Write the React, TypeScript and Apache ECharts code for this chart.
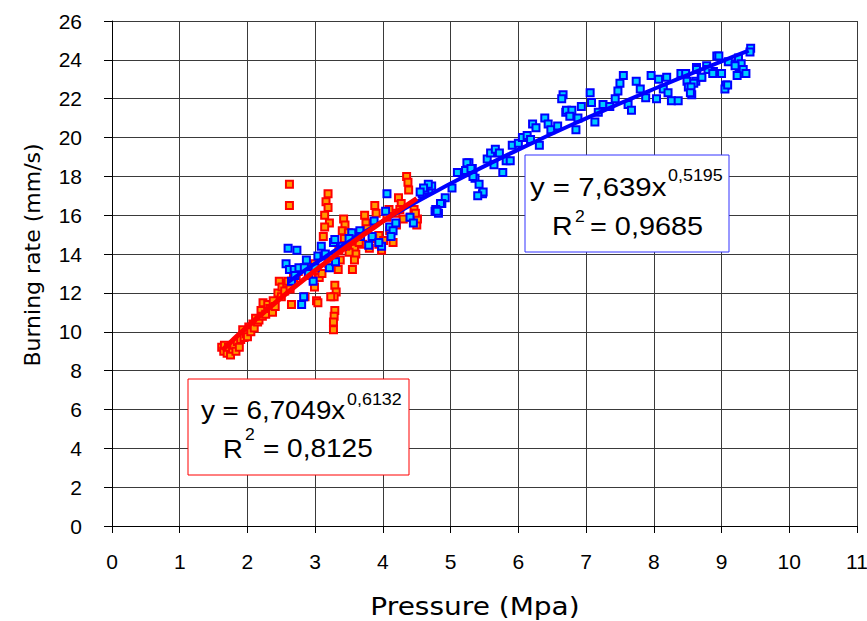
import React, { useEffect, useRef } from 'react';
import * as echarts from 'echarts';

// Tick labels
const xTicks = [0, 1, 2, 3, 4, 5, 6, 7, 8, 9, 10, 11];
const yTicks = [0, 2, 4, 6, 8, 10, 12, 14, 16, 18, 20, 22, 24, 26];

// Red (low-pressure) measured points [pressure, burning rate]
const redPoints: [number, number][] = [
  [1.62, 9.2], [1.65, 9.0], [1.66, 9.3], [1.7, 8.9], [1.72, 9.2], [1.75, 8.8], [1.78, 9.1], [1.8, 9.3],
  [1.83, 9.0], [1.85, 9.5], [1.88, 9.2], [1.9, 9.6], [1.93, 10.1], [1.95, 9.7], [1.98, 9.9], [2.0, 9.75],
  [2.02, 10.25], [2.05, 10.0], [2.08, 10.4], [2.1, 10.2], [2.12, 10.7], [2.15, 10.5], [2.17, 10.6],
  [2.2, 11.1], [2.22, 10.8], [2.23, 11.5], [2.27, 10.9], [2.3, 11.4], [2.33, 11.2], [2.37, 11.0],
  [2.38, 11.6], [2.41, 11.3], [2.45, 12.0], [2.47, 12.6], [2.5, 11.8], [2.51, 12.3], [2.55, 12.1],
  [2.58, 12.5], [2.6, 12.6], [2.63, 12.2], [2.65, 11.4], [2.62, 17.6], [2.62, 16.5], [2.68, 12.8],
  [2.72, 12.9], [2.75, 13.1],
  [2.85, 11.8], [2.9, 12.9], [2.95, 13.3], [2.99, 13.5], [3.04, 13.0], [2.99, 12.3], [3.02, 11.6],
  [3.04, 11.5], [3.06, 12.8],
  [3.19, 17.1], [3.16, 16.7], [3.19, 16.4], [3.14, 16.0], [3.21, 15.6], [3.14, 15.4], [3.12, 14.9],
  [3.29, 12.4], [3.31, 12.05], [3.28, 11.8], [3.23, 11.8], [3.29, 11.1], [3.28, 10.8], [3.27, 10.5],
  [3.27, 10.1],
  [3.42, 15.8], [3.44, 15.5], [3.4, 15.2], [3.49, 15.1], [3.43, 14.8], [3.58, 14.3], [3.6, 14.0],
  [3.58, 13.7], [3.34, 13.2], [3.37, 13.7],
  [3.73, 16.0], [3.75, 15.6], [3.77, 15.3], [3.88, 16.5], [3.9, 16.1], [3.94, 14.96], [4.01, 14.7],
  [3.98, 14.2], [3.94, 14.5],
  [4.23, 16.9], [4.27, 16.6], [4.25, 16.3], [4.35, 18.0], [4.37, 17.7], [4.38, 17.3], [4.46, 16.3],
  [4.5, 15.5], [4.51, 15.8], [4.41, 15.9], [4.19, 16.1], [4.09, 16.3], [4.06, 15.9], [4.48, 16.1],
  [3.7, 14.5], [3.8, 14.3], [3.85, 14.8], [4.1, 15.2], [4.15, 14.6], [3.55, 13.2], [3.5, 14.1],
  [3.65, 14.6], [3.2, 13.5], [3.1, 13.0], [3.35, 14.2], [3.45, 14.4], [4.3, 15.8], [4.2, 15.5],
];

// Blue (full range) measured points [pressure, burning rate]
const bluePoints: [number, number][] = [
  [2.6, 14.3], [2.73, 14.2], [2.57, 13.5], [2.62, 13.2], [2.69, 13.2], [2.76, 13.3], [2.87, 13.7],
  [2.84, 13.3], [2.97, 12.6], [2.83, 11.8], [2.8, 11.4], [3.09, 14.4], [3.04, 13.9], [3.13, 13.9],
  [3.27, 14.6], [3.29, 14.75], [3.21, 13.3], [3.3, 13.6], [3.54, 15.1], [3.66, 15.2], [3.67, 14.9],
  [3.79, 14.45], [3.84, 14.9], [3.87, 15.7], [3.98, 14.4], [3.94, 14.6], [4.06, 17.1], [4.04, 16.2],
  [4.1, 15.4], [4.15, 15.2], [4.12, 14.9], [4.19, 15.6], [4.4, 15.9], [4.45, 15.6], [4.58, 17.1],
  [4.68, 17.3], [2.65, 12.6], [2.7, 12.9], [2.9, 13.0], [3.0, 13.3], [3.15, 14.0], [3.4, 14.4],
  [3.5, 14.8],
  [4.62, 17.3], [4.72, 17.5], [4.92, 16.9], [4.87, 16.6], [4.77, 16.2], [4.82, 16.1], [5.02, 17.4],
  [5.12, 18.2], [5.22, 18.3], [5.27, 18.7], [5.32, 18.4], [5.36, 17.9], [5.42, 17.6], [5.47, 17.1],
  [5.48, 17.2], [5.54, 18.9], [5.59, 19.2], [5.66, 19.4], [5.72, 19.2], [5.64, 18.6], [5.77, 18.2],
  [5.82, 18.8], [5.88, 18.8], [5.91, 19.6], [6.0, 19.7], [6.06, 20.0], [6.13, 20.1], [6.18, 19.9],
  [6.21, 20.7], [6.26, 20.5], [6.31, 19.6], [6.39, 21.0], [6.44, 20.7], [6.48, 20.4], [6.58, 20.6],
  [6.7, 21.3],
  [6.66, 22.2], [6.64, 22.0], [6.71, 21.4], [6.79, 21.4], [6.76, 21.1], [6.93, 21.6], [6.88, 21.0],
  [6.85, 20.4], [7.06, 22.3], [7.08, 21.8], [7.13, 20.8], [7.18, 21.3], [7.25, 21.7], [7.35, 21.6],
  [7.43, 22.0], [7.47, 22.4], [7.5, 22.8], [7.55, 23.2], [7.62, 21.7], [7.67, 21.4], [7.74, 22.9],
  [7.8, 22.5], [7.88, 22.05], [7.96, 23.2], [8.04, 22.0], [8.07, 23.0], [8.19, 23.1], [8.14, 22.5],
  [8.21, 22.3], [8.26, 21.9], [8.36, 21.9], [8.4, 23.3], [8.47, 23.3], [8.49, 22.9], [8.51, 22.6],
  [8.56, 22.2], [8.62, 22.9], [8.63, 23.6], [8.7, 23.1], [8.78, 23.7], [8.88, 23.4], [9.0, 23.3],
  [9.06, 22.7], [9.05, 22.5], [9.1, 23.9], [9.23, 23.8], [9.26, 23.3],
  [9.43, 24.6], [9.42, 24.4], [8.93, 24.2], [8.96, 24.2], [9.25, 24.1], [9.29, 23.8], [9.2, 23.7],
  [9.32, 23.5], [9.36, 23.3], [9.23, 23.2], [8.71, 23.1], [8.59, 22.8], [8.55, 22.6], [8.54, 22.3],
  [9.09, 22.7], [8.63, 23.5], [8.8, 23.5], [8.87, 23.3],
  [4.67, 17.6], [4.6, 17.4], [4.55, 17.2], [4.85, 16.6], [4.78, 16.3], [4.8, 16.2], [5.1, 18.2],
  [5.24, 18.7], [5.3, 18.4], [5.33, 18.0], [5.4, 17.0],
];

// Power-law trendlines, values
const blueFit: [number, number][] = [
  [2.6, 12.55], [3, 13.52], [4, 15.7], [5, 17.63], [6, 19.38], [7, 20.99], [8, 22.5], [9, 23.92], [9.4, 24.47],
];
const redFit: [number, number][] = [
  [1.63, 9.05], [2, 10.26], [2.5, 11.76], [3, 13.15], [3.5, 14.46], [4, 15.69], [4.5, 16.86],
];

const ARIAL = '"Liberation Sans", Arial, sans-serif';
const NAMEFONT = '"DejaVu Sans", sans-serif';

function txt(text: string, x: number, y: number, size: number, sx: number, extra: any = {}) {
  return {
    type: 'text', x, y, scaleX: sx, z: 100,
    style: { text, fontSize: size, fontFamily: ARIAL, fill: '#000', textAlign: 'left', textVerticalAlign: 'middle', verticalAlign: 'middle', ...extra },
  };
}

export default function App() {
  const ref = useRef<HTMLDivElement>(null);
  useEffect(() => {
    document.body.style.margin = '0';
    const chart = echarts.init(ref.current!, null, { renderer: 'svg' });
    chart.setOption({
      animation: false,
      backgroundColor: '#fff',
      grid: { left: 112, right: 10, top: 21, bottom: 95, containLabel: false, outerBoundsMode: 'none' },
      xAxis: {
        type: 'value', min: xTicks[0], max: xTicks[xTicks.length - 1], interval: 1,
        axisLine: { show: true, onZero: false, lineStyle: { color: '#000', width: 1 } },
        axisTick: { show: true, length: 7, lineStyle: { color: '#000' } },
        axisLabel: { margin: 25, fontSize: 21, color: '#000', fontFamily: ARIAL },
        splitLine: { show: true, lineStyle: { color: '#3a3a3a', width: 1 } },
      },
      yAxis: {
        type: 'value', min: yTicks[0], max: yTicks[yTicks.length - 1], interval: 2,
        axisLine: { show: true, onZero: false, lineStyle: { color: '#000', width: 1 } },
        axisTick: { show: true, length: 8, lineStyle: { color: '#000' } },
        axisLabel: { margin: 30, fontSize: 21, color: '#000', fontFamily: ARIAL },
        splitLine: { show: true, lineStyle: { color: '#3a3a3a', width: 1 } },
      },
      series: [
        {
          type: 'scatter', data: redPoints, symbol: 'rect', symbolSize: 7, silent: true,
          itemStyle: { color: '#ff9900', borderColor: '#ff0000', borderWidth: 2, opacity: 1 },
        },
        {
          type: 'scatter', data: bluePoints, symbol: 'rect', symbolSize: 7, silent: true,
          itemStyle: { color: '#00ccff', borderColor: '#0000ff', borderWidth: 2, opacity: 1 },
        },
        {
          type: 'line', data: blueFit, smooth: true, showSymbol: false, silent: true,
          lineStyle: { color: '#0000ff', width: 4 },
        },
        {
          type: 'line', data: redFit, smooth: true, showSymbol: false, silent: true,
          lineStyle: { color: '#ff0000', width: 5 },
        },
      ],
      graphic: [
        { type: 'rect', z: 99, shape: { x: 525, y: 155, width: 204, height: 97 }, style: { fill: '#fff', stroke: '#3333ff', lineWidth: 1 } },
        txt('y = 7,639x', 530, 187, 26, 1.13),
        txt('0,5195', 668, 176, 16, 1.12),
        txt('R', 552, 226, 26, 1.1),
        txt('2', 575, 217, 16, 1.1),
        txt('= 0,9685', 590, 226, 26, 1.11),
        { type: 'rect', z: 99, shape: { x: 188, y: 379, width: 221, height: 96 }, style: { fill: '#fff', stroke: '#ff0000', lineWidth: 1 } },
        txt('y = 6,7049x', 201, 410, 25, 1.11),
        txt('0,6132', 347, 400, 16, 1.12),
        txt('R', 223, 449, 25, 1.1),
        txt('2', 245, 435, 16, 1.1),
        txt('= 0,8125', 263, 449, 25, 1.12),
        {
          type: 'text', x: 475, y: 606, z: 100, scaleX: 1.12,
          style: { text: 'Pressure (Mpa)', fontSize: 25, fontFamily: NAMEFONT, fill: '#000', textAlign: 'center', verticalAlign: 'middle', textVerticalAlign: 'middle' },
        },
        {
          type: 'text', x: 32, y: 255, rotation: Math.PI / 2, z: 100,
          style: { text: 'Burning rate (mm/s)', fontSize: 22, fontFamily: NAMEFONT, fill: '#000', textAlign: 'center', verticalAlign: 'middle', textVerticalAlign: 'middle' },
        },
      ],
    });
    return () => chart.dispose();
  }, []);
  return <div ref={ref} style={{ width: 867, height: 621, position: 'absolute', left: 0, top: 0 }} />;
}
